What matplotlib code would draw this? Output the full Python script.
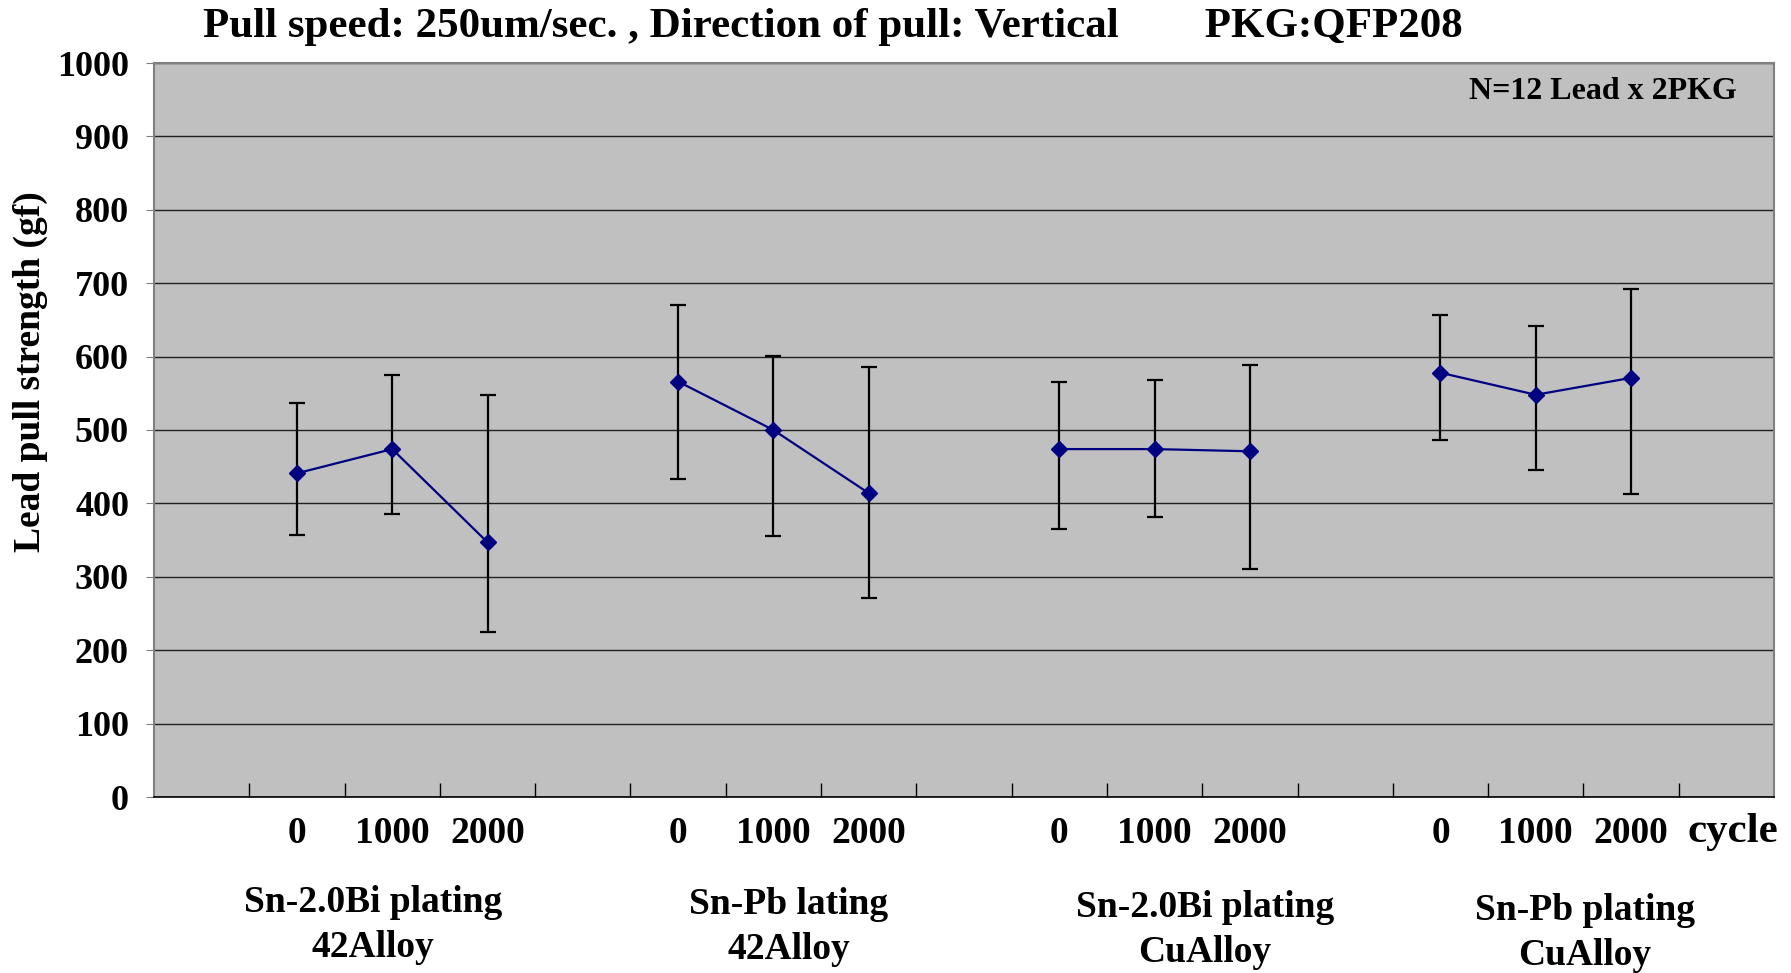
import matplotlib.pyplot as plt
import numpy as np

plt.rcParams['font.family'] = ['Liberation Serif', 'DejaVu Serif']
plt.rcParams['font.weight'] = 'bold'

# groups and cycles
groups = ["Sn-2.0Bi plating\n42Alloy", "Sn-Pb lating\n42Alloy",
          "Sn-2.0Bi plating\nCuAlloy", "Sn-Pb plating\nCuAlloy"]
cycles = ["0", "1000", "2000"]

# mean lead pull strength (gf) per group, per cycle
mean = [[441, 474, 347],
        [566, 500, 414],
        [474, 474, 471],
        [578, 548, 571]]
# error bar ends
low = [[357, 385, 225],
       [433, 355, 271],
       [365, 382, 311],
       [487, 446, 413]]
high = [[537, 575, 548],
        [670, 601, 586],
        [565, 568, 589],
        [657, 642, 692]]

fig = plt.figure(figsize=(17.91, 9.73), dpi=100)
ax = fig.add_axes([154 / 1791, 1 - 797 / 973, (1774 - 154) / 1791, (797 - 63) / 973])
ax.set_facecolor('#c0c0c0')

# 17 category slots, groups at slots 1-3, 5-7, 9-11, 13-15
xpos_all = []
for g in range(len(groups)):
    xs = np.arange(3) + 1 + 4 * g
    xpos_all.extend(xs)
    m = np.array(mean[g])
    yerr = [m - np.array(low[g]), np.array(high[g]) - m]
    ax.errorbar(xs, m, yerr=yerr, fmt='none', ecolor='black', elinewidth=1.6,
                capsize=6, capthick=1.6, zorder=3)
    ax.plot(xs, m, color='#000080', lw=1.6, marker='D', markersize=8, zorder=4)

ax.set_xlim(-0.5, 16.5)
ax.set_ylim(0, 1000)
ax.set_yticks(np.arange(0, 1001, 100))
ax.yaxis.grid(True, color='#202020', lw=1.0)
ax.set_axisbelow(True)

ax.set_xticks(xpos_all)
ax.set_xticklabels(cycles * len(groups))
ax.set_xticks(np.arange(0.5, 16, 1), minor=True)
ax.tick_params(axis='x', which='major', length=0, pad=14, labelsize=27)
ax.tick_params(axis='x', which='minor', direction='in', length=10, width=1, color='black')
ax.tick_params(axis='y', length=6, color='#808080', labelsize=26, pad=12)
for lab in ax.get_xticklabels() + ax.get_yticklabels():
    lab.set_fontweight('bold')

for side in ['left', 'top', 'right']:
    ax.spines[side].set_color('#808080')
    ax.spines[side].set_linewidth(1.5)
ax.spines['bottom'].set_color('black')
ax.spines['bottom'].set_linewidth(1.2)

fig.text(30 / 1791, 1 - 372 / 973, 'Lead pull strength (gf)', rotation=90,
         fontsize=27, fontweight='bold', ha='center', va='center')

fig.text(203 / 1791, 1 - 27 / 973, 'Pull speed: 250um/sec. , Direction of pull: Vertical        PKG:QFP208',
         fontsize=31, fontweight='bold', ha='left', va='center')
ax.text(0.977, 0.961, 'N=12 Lead x 2PKG', transform=ax.transAxes, fontsize=23,
        fontweight='bold', ha='right', va='center')
fig.text(1778 / 1791, 1 - 832 / 973, 'cycle', fontsize=31, fontweight='bold',
         ha='right', va='center')

label_x = [373, 789, 1205, 1585]
label_y = [925, 927, 930, 933]
for g, name in enumerate(groups):
    fig.text(label_x[g] / 1791, 1 - label_y[g] / 973, name, fontsize=27,
             fontweight='bold', ha='center', va='center', linespacing=1.4)

fig.savefig('out.png', dpi=100)
